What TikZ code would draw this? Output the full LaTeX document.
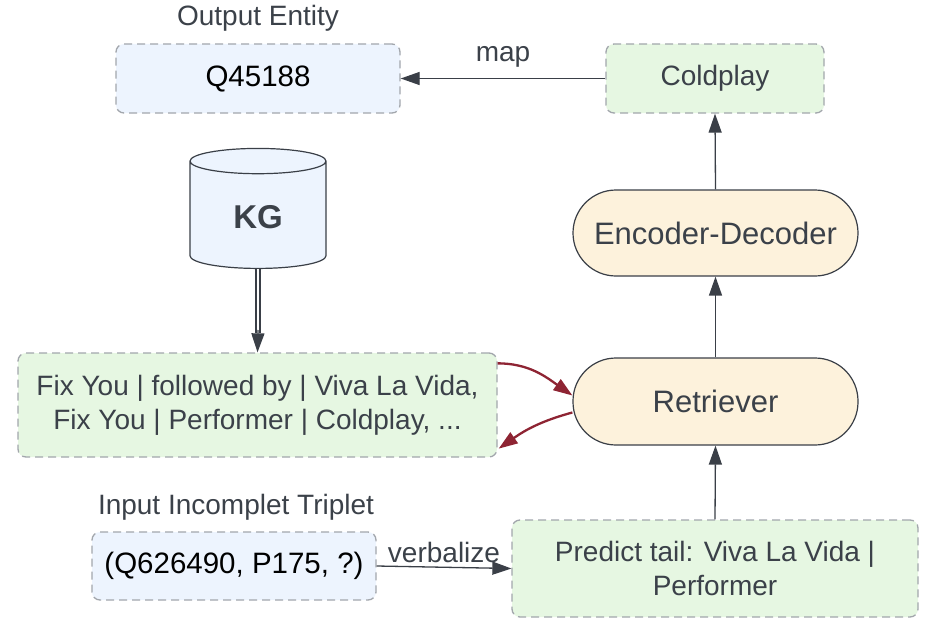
\documentclass[tikz,border=0pt]{standalone}
\usepackage{fontspec}
\setmainfont{Liberation Sans}
\usetikzlibrary{arrows.meta,shapes.geometric}
\definecolor{txtgray}{HTML}{3B4149}
\definecolor{linegray}{HTML}{3A3F47}
\definecolor{dashgray}{HTML}{A2A6AC}
\definecolor{bluefill}{HTML}{EDF4FE}
\definecolor{greenfill}{HTML}{E6F7E2}
\definecolor{yellowfill}{HTML}{FDF2DC}
\definecolor{darkred}{HTML}{8E2433}
\begin{document}
\begin{tikzpicture}[x=1pt,y=-1pt,>={Triangle[length=19pt,width=13pt]},
    every node/.style={text=txtgray},
    dbox/.style={draw=dashgray,dash pattern=on 8pt off 5pt,line width=1.3pt,rounded corners=8pt,align=center,inner sep=0pt,font=\fontsize{28}{34}\selectfont},
    idbox/.style={dbox,fill=bluefill,text=black,font=\fontsize{29.5}{34}\selectfont},
    pill/.style={draw=linegray,fill=yellowfill,line width=1.2pt,rounded corners=43pt,inner sep=0pt,font=\fontsize{31}{36}\selectfont},
    lbl/.style={font=\fontsize{28}{32}\selectfont},
    conn/.style={draw=linegray,line width=1.3pt}]
  \useasboundingbox (0,0) rectangle (928,626);
  % top row
  \node[idbox,minimum width=284pt,minimum height=69pt] (out) at (258,78.5) {Q45188};
  \node[lbl] (outlbl) at (258,18) {Output Entity};
  \node[dbox,fill=greenfill,minimum width=218pt,minimum height=69pt] (cold) at (715,78.5) {Coldplay};
  % knowledge graph
  \node[cylinder,shape border rotate=90,aspect=0.45,draw=linegray,fill=bluefill,line width=1.2pt,
        minimum width=136pt,minimum height=120pt,font=\fontsize{33}{36}\bfseries] (kg) at (258,217) {\raisebox{-5pt}{KG}};
  \node[dbox,fill=greenfill,minimum width=479pt,minimum height=104pt] (facts) at (257.5,405)
      {Fix You | followed by | Viva La Vida,\\Fix You | Performer | Coldplay, ...};
  % models
  \node[pill,minimum width=285pt,minimum height=86pt] (enc) at (715.5,233) {Encoder-Decoder};
  \node[pill,minimum width=285pt,minimum height=87pt] (ret) at (715.5,401.5) {Retriever};
  % input
  \node[idbox,minimum width=284pt,minimum height=68pt] (inp) at (234,566) {(Q626490, P175, ?)};
  \node[lbl] (inplbl) at (236,507) {Input Incomplet Triplet};
  \node[dbox,fill=greenfill,minimum width=406pt,minimum height=97pt] (pred) at (715,568.5)
      {Predict tail: Viva La Vida |\\Performer};
  % connectors
  \draw[conn,->](cold.west)--(out.east)node[midway,above=7pt,lbl]{map};
  \draw[conn,->](inp.east)--(pred.west)node[midway,above=1pt,lbl]{verbalize};
  \draw[conn,->](pred.north)--(ret.south);
  \draw[conn,->](ret.north)--(enc.south);
  \draw[conn,->](enc.north)--(cold.south);
  \draw[draw=linegray,double=white,double distance=2.5pt,line width=1.3pt](kg.south)--(258,333);
  \draw[conn,->](258,330)--(facts.north);
  \draw[darkred,line width=2.3pt,->](facts.north east)++(0,11) to[out=0,in=145] ([yshift=6pt]ret.west);
  \draw[darkred,line width=2.3pt,->]([yshift=-11pt]ret.west) to[out=195,in=35] ([xshift=1pt,yshift=9pt]facts.south east);
\end{tikzpicture}
\end{document}
